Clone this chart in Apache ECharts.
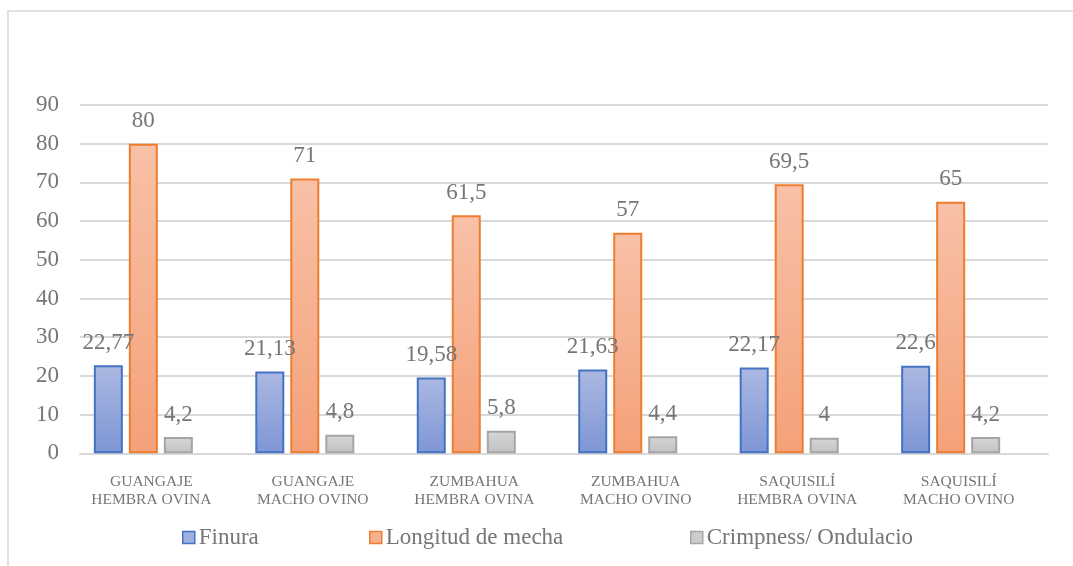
<!DOCTYPE html>
<html>
<head>
<meta charset="utf-8">
<script src="https://cdn.jsdelivr.net/npm/echarts@6/dist/echarts.min.js"></script>
<style>
  html, body { margin: 0; padding: 0; background: #ffffff; }
  #chart { width: 1073px; height: 566px; }
</style>
</head>
<body>
<div id="chart"></div>
<script>
// Categories (two-line labels) and series values
const categories = [
  'GUANGAJE\nHEMBRA OVINA',
  'GUANGAJE\nMACHO OVINO',
  'ZUMBAHUA\nHEMBRA OVINA',
  'ZUMBAHUA\nMACHO OVINO',
  'SAQUISILÍ\nHEMBRA OVINA',
  'SAQUISILÍ\nMACHO OVINO'
];
const finura = [22.77, 21.13, 19.58, 21.63, 22.17, 22.6];
const longitud = [80, 71, 61.5, 57, 69.5, 65];
const crimpness = [4.2, 4.8, 5.8, 4.4, 4, 4.2];
const seriesNames = ['Finura', 'Longitud de mecha', 'Crimpness/ Ondulacio'];
const yTicks = { min: 0, max: 90, interval: 10 };

const FONT = "'Liberation Serif', 'Times New Roman', serif";
const TEXT = '#767676';
const GRID_LINE = '#d9d9d9';

function grad(top, bottom) {
  return new echarts.graphic.LinearGradient(0, 0, 0, 1, [
    { offset: 0, color: top },
    { offset: 1, color: bottom }
  ]);
}

const styles = [
  { fill: grad('#abb8e2', '#7e96d5'), border: '#4472c4', legendFill: '#a0b0de' },
  { fill: grad('#f8c1a7', '#f4a179'), border: '#ed7d31', legendFill: '#f6b192' },
  { fill: grad('#d6d6d6', '#c2c2c2'), border: '#a5a5a5', legendFill: '#cccccc' }
];
const values = [finura, longitud, crimpness];

const labelFmt = p => String(p.value).replace('.', ',');

const series = values.map((vals, i) => ({
  name: seriesNames[i],
  type: 'bar',
  xAxisIndex: 1,
  yAxisIndex: 1,
  data: vals,
  barWidth: 29,
  barGap: '20.7%',
  itemStyle: { color: styles[i].fill, borderColor: styles[i].border, borderWidth: 2 },
  label: {
    show: true,
    position: 'top',
    distance: 11,
    formatter: labelFmt,
    fontFamily: FONT,
    fontSize: 23,
    color: TEXT
  }
}));

const legendLefts = [177, 364, 685];
const legends = seriesNames.map((n, i) => ({
  left: legendLefts[i],
  top: 521,
  itemWidth: 12,
  itemHeight: 12,
  icon: 'rect',
  itemGap: 0,
  data: [{ name: n, itemStyle: { color: styles[i].legendFill, borderColor: styles[i].border, borderWidth: 1.5 } }],
  textStyle: { fontFamily: FONT, fontSize: 23, color: TEXT, padding: [0, 0, 0, -1] }
}));

const chart = echarts.init(document.getElementById('chart'), null, { renderer: 'canvas' });
chart.setOption({
  backgroundColor: '#ffffff',
  animation: false,
  graphic: [{
    type: 'rect',
    shape: { x: 8, y: 11, width: 1100, height: 620 },
    style: { fill: 'none', stroke: '#d9d9d9', lineWidth: 1.5 },
    silent: true,
    z: -10
  }],
  legend: legends,
  grid: [
    { left: 80, right: 25, top: 105, bottom: 112.7 },
    { left: 62.6, right: 41.6, top: 105, bottom: 112.7 }
  ],
  xAxis: [
    {
      gridIndex: 0,
      type: 'category',
      data: categories,
      axisLine: { show: true, lineStyle: { color: GRID_LINE, width: 2 } },
      axisTick: { show: false },
      axisLabel: { show: false }
    },
    {
      gridIndex: 1,
      type: 'category',
      data: categories,
      axisLine: { show: false },
      axisTick: { show: false },
      axisLabel: {
        margin: 19,
        fontFamily: FONT,
        fontSize: 15.5,
        lineHeight: 18.5,
        color: TEXT,
        padding: [0, 0, 0, 16]
      }
    }
  ],
  yAxis: [
    {
      gridIndex: 0,
      type: 'value',
      min: yTicks.min,
      max: yTicks.max,
      interval: yTicks.interval,
      axisLine: { show: false },
      axisTick: { show: false },
      splitLine: { lineStyle: { color: GRID_LINE, width: 2 } },
      axisLabel: { margin: 21, fontFamily: FONT, fontSize: 23, color: TEXT }
    },
    {
      gridIndex: 1,
      type: 'value',
      min: yTicks.min,
      max: yTicks.max,
      interval: yTicks.interval,
      show: false,
      splitLine: { show: false }
    }
  ],
  series: series
});
</script>
</body>
</html>
